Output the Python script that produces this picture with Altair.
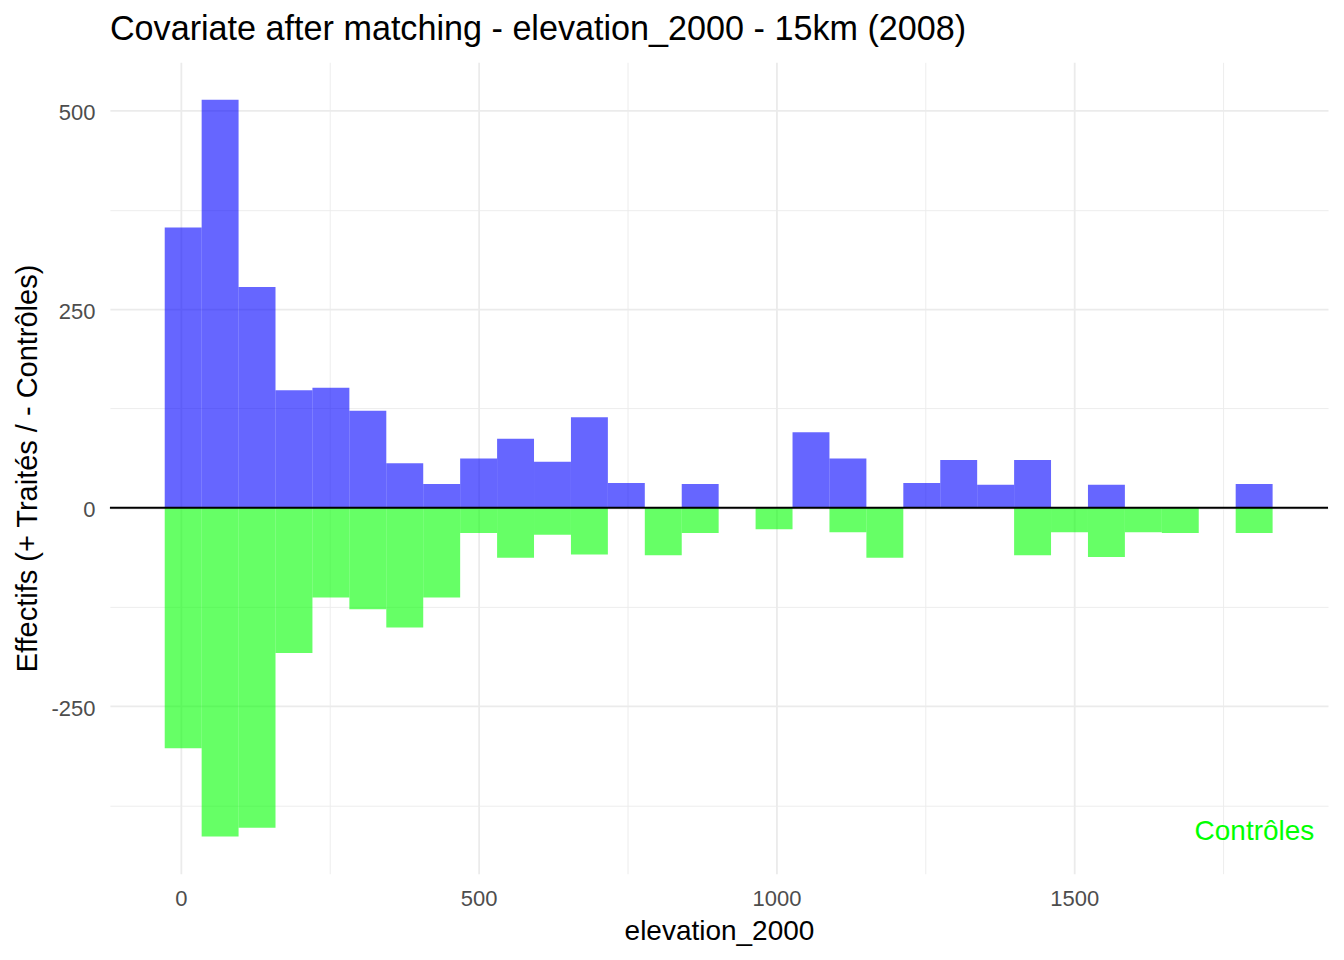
import altair as alt
import pandas as pd

# ---- data (histogram bins of elevation_2000) ----
bin_left = [-27, 35, 97, 159, 221, 283, 345, 407, 469, 531,
            593, 655, 717, 779, 841, 903, 965, 1027, 1089, 1151,
            1213, 1275, 1337, 1399, 1461, 1523, 1585, 1647, 1709, 1771]
bin_right = [35, 97, 159, 221, 283, 345, 407, 469, 531, 593,
             655, 717, 779, 841, 903, 965, 1027, 1089, 1151, 1213,
             1275, 1337, 1399, 1461, 1523, 1585, 1647, 1709, 1771, 1833]
treated = [353, 514, 278, 148, 151, 122, 56, 30, 62, 87,
           58, 114, 31, 0, 30, 0, 0, 95, 62, 0,
           31, 60, 29, 60, 0, 29, 0, 0, 0, 30]
controls = [303, 414, 403, 183, 113, 128, 151, 113, 32, 63,
            34, 59, 0, 60, 32, 0, 27, 0, 31, 63,
            0, 0, 0, 60, 31, 62, 31, 32, 0, 32]

x_ticks = [0, 250, 500, 750, 1000, 1250, 1500, 1750]
y_ticks = [-375, -250, -125, 0, 125, 250, 375, 500]

annot_label = ["Contrôles"]
annot_x = [1903]
annot_y = [-408]

title_text = "Covariate after matching - elevation_2000 - 15km (2008)"
x_title = "elevation_2000"
y_title = "Effectifs (+ Traités / - Contrôles)"

# ---- tables built from the arrays ----
rows = []
for l, r, t, c in zip(bin_left, bin_right, treated, controls):
    if t > 0:
        rows.append({"x": l, "x2": r, "y": 0, "y2": t, "group": "Traités"})
    if c > 0:
        rows.append({"x": l, "x2": r, "y": 0, "y2": -c, "group": "Contrôles"})
bars_df = pd.DataFrame(rows)
annot_df = pd.DataFrame({"x": annot_x, "y": annot_y, "label": annot_label})
zero_df = pd.DataFrame({"y": [0]})

FONT = "Liberation Sans"
W, H = 1219, 812

xscale = alt.Scale(domain=[-119, 1926], nice=False, zero=False)
yscale = alt.Scale(domain=[-461, 561], nice=False, zero=False)

x_axis = alt.Axis(
    values=x_ticks,
    labelExpr="datum.value % 500 === 0 ? '' + datum.value : ''",
    gridWidth={"condition": {"test": "datum.value % 500 === 0", "value": 1.8}, "value": 0.9},
    labelPadding=32, labelBaseline="alphabetic",
    titleY=66, titleBaseline="alphabetic",
)
y_axis = alt.Axis(
    values=y_ticks,
    labelExpr="datum.value % 250 === 0 ? '' + datum.value : ''",
    gridWidth={"condition": {"test": "datum.value % 250 === 0", "value": 1.8}, "value": 0.9},
    labelPadding=15, labelAlign="right", labelBaseline="middle", labelOffset=2,
    titleX=-73, titleY=406, titleAngle=270, titleAlign="center", titleBaseline="alphabetic",
    titleFontSize=29,
)

bars = alt.Chart(bars_df).mark_bar(opacity=0.6, strokeWidth=0).encode(
    x=alt.X("x:Q", scale=xscale, axis=x_axis, title=x_title),
    x2="x2:Q",
    y=alt.Y("y:Q", scale=yscale, axis=y_axis, title=y_title),
    y2="y2:Q",
    color=alt.Color("group:N",
                    scale=alt.Scale(domain=["Traités", "Contrôles"], range=["#0000FF", "#00FF00"]),
                    legend=None),
)

zero_line = alt.Chart(zero_df).mark_rule(color="black", strokeWidth=2).encode(
    y=alt.Y("y:Q", scale=yscale, title=y_title),
)

annot = alt.Chart(annot_df).mark_text(
    align="right", baseline="middle", fontSize=28, color="#00FF00", font=FONT
).encode(
    x=alt.X("x:Q", scale=xscale, title=x_title),
    y=alt.Y("y:Q", scale=yscale, title=y_title),
    text="label:N",
)

chart = alt.layer(bars, zero_line, annot).properties(
    width=W, height=H,
    title=alt.TitleParams(title_text, anchor="start", frame="group", fontSize=34.2,
                          font=FONT, fontWeight="normal", color="black",
                          baseline="alphabetic", offset=-12),
    autosize=alt.AutoSizeParams(type="none"),
    padding={"left": 102, "top": 54, "right": 8, "bottom": 78},
).configure_view(stroke=None).configure_axis(
    domain=False, ticks=False, tickSize=0,
    labelFont=FONT, labelFontSize=22, labelColor="#4D4D4D",
    titleFont=FONT, titleFontSize=28, titleColor="black", titleFontWeight="normal",
    gridColor="#EBEBEB",
)

chart.save("out.html", embed_options={"renderer": "svg", "actions": False})
